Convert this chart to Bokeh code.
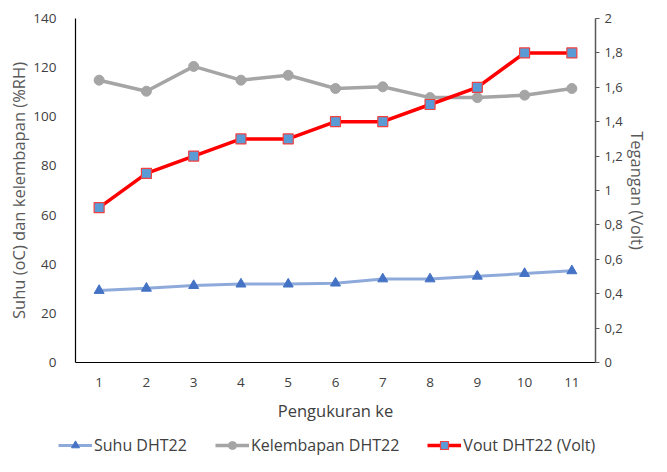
from bokeh.plotting import figure
from bokeh.layouts import column
from bokeh.models import Range1d, LinearAxis, FixedTicker, Legend, LegendItem
from bokeh.embed import file_html
from bokeh.resources import INLINE

pengukuran = [1, 2, 3, 4, 5, 6, 7, 8, 9, 10, 11]
suhu = [29.3, 30.2, 31.3, 31.9, 31.9, 32.3, 34.0, 34.0, 35.1, 36.2, 37.3]
kelembapan = [114.9, 110.4, 120.5, 114.9, 116.9, 111.5, 112.2, 107.8, 107.8, 108.8, 111.5]
vout = [0.9, 1.1, 1.2, 1.3, 1.3, 1.4, 1.4, 1.5, 1.6, 1.8, 1.8]

left_ticks = [0, 20, 40, 60, 80, 100, 120, 140]
right_ticks = [0, 0.2, 0.4, 0.6, 0.8, 1.0, 1.2, 1.4, 1.6, 1.8, 2.0]
right_labels = ["0", "0,2", "0,4", "0,6", "0,8", "1", "1,2", "1,4", "1,6", "1,8", "2"]

FONT = "Open Sans"
TXT = "#404040"
TITLE = "#595959"
TICK_SIZE = "13.5px"
TITLE_SIZE = "16.5px"

C_SUHU_LINE, C_SUHU_MARK = "#8eaadb", "#4472c4"
C_RH = "#a5a5a5"
C_V_LINE, C_V_FILL, C_V_EDGE = "#ff0000", "#5b9bd5", "#f04040"

p = figure(width=651, height=432, output_backend="svg", toolbar_location=None,
           x_range=Range1d(0.5, 11.5), y_range=Range1d(0, 140),
           min_border_left=75, min_border_right=54, min_border_top=18, min_border_bottom=70)
p.frame_align = False
p.outline_line_color = None
p.grid.grid_line_color = None
p.extra_y_ranges = {"v": Range1d(0, 2)}

xa = p.xaxis[0]
xa.ticker = FixedTicker(ticks=pengukuran)
xa.axis_label = "Pengukuran ke"
xa.axis_line_color = "black"
xa.axis_line_width = 1.2
xa.major_tick_line_color = None
xa.minor_tick_line_color = None
xa.major_label_text_font = FONT
xa.major_label_text_font_size = TICK_SIZE
xa.major_label_text_color = TXT
xa.major_label_standoff = 9
xa.axis_label_text_font = FONT
xa.axis_label_text_font_size = TITLE_SIZE
xa.axis_label_text_font_style = "normal"
xa.axis_label_text_color = TXT
xa.axis_label_standoff = 9

ya = p.yaxis[0]
ya.ticker = FixedTicker(ticks=left_ticks)
ya.axis_label = "Suhu (oC) dan kelembapan (%RH)"
ya.axis_line_color = "black"
ya.axis_line_width = 1.2
ya.major_tick_line_color = None
ya.minor_tick_line_color = None
ya.major_label_text_font = FONT
ya.major_label_text_font_size = TICK_SIZE
ya.major_label_text_color = TXT
ya.major_label_standoff = 13
ya.axis_label_text_font = FONT
ya.axis_label_text_font_size = TITLE_SIZE
ya.axis_label_text_font_style = "normal"
ya.axis_label_text_color = TITLE
ya.axis_label_standoff = 0

ra = LinearAxis(y_range_name="v", ticker=FixedTicker(ticks=right_ticks))
ra.major_label_overrides = {t: l for t, l in zip(right_ticks, right_labels)}
ra.axis_label = "Tegangan (Volt)"
ra.axis_line_color = "#595959"
ra.axis_line_width = 1.5
ra.major_tick_line_color = "#595959"
ra.major_tick_in = 0
ra.major_tick_out = 4
ra.minor_tick_line_color = None
ra.major_label_text_font = FONT
ra.major_label_text_font_size = "13px"
ra.major_label_text_color = TXT
ra.major_label_standoff = 5
ra.axis_label_text_font = FONT
ra.axis_label_text_font_size = TITLE_SIZE
ra.axis_label_text_font_style = "normal"
ra.axis_label_text_color = TITLE
ra.axis_label_standoff = 0
p.add_layout(ra, "right")

p.line(pengukuran, suhu, line_color=C_SUHU_LINE, line_width=3)
p.scatter(pengukuran, suhu, marker="triangle", size=10, fill_color=C_SUHU_MARK, line_color=C_SUHU_MARK)
p.line(pengukuran, kelembapan, line_color=C_RH, line_width=3.5)
p.scatter(pengukuran, kelembapan, marker="circle", size=10, fill_color=C_RH, line_color=C_RH)
p.line(pengukuran, vout, line_color=C_V_LINE, line_width=3.5, y_range_name="v")
p.scatter(pengukuran, vout, marker="square", size=10, fill_color=C_V_FILL, line_color=C_V_EDGE,
          line_width=1.2, y_range_name="v")

# legend strip (separate figure so the legend is not clipped by the plot frame);
# its renderers hold one off-range point only, so nothing but the legend shows
lg = figure(width=651, height=24, output_backend="svg", toolbar_location=None,
            x_range=Range1d(0, 1), y_range=Range1d(0, 1),
            x_axis_location=None, y_axis_location=None,
            min_border_left=0, min_border_right=0, min_border_top=0, min_border_bottom=0)
lg.frame_align = False
lg.outline_line_color = None
lg.grid.grid_line_color = None
off_x, off_y = [-5, -4], [-5, -4]
e1 = lg.line(off_x, off_y, line_color=C_SUHU_LINE, line_width=3)
m1 = lg.scatter(off_x[:1], off_y[:1], marker="triangle", size=8, fill_color=C_SUHU_MARK, line_color=C_SUHU_MARK)
e2 = lg.line(off_x, off_y, line_color=C_RH, line_width=3.5)
m2 = lg.scatter(off_x[:1], off_y[:1], marker="circle", size=8, fill_color=C_RH, line_color=C_RH)
e3 = lg.line(off_x, off_y, line_color=C_V_LINE, line_width=3.5)
m3 = lg.scatter(off_x[:1], off_y[:1], marker="square", size=8, fill_color=C_V_FILL, line_color=C_V_EDGE,
                line_width=1.2)

legend = Legend(items=[
    LegendItem(label="Suhu DHT22", renderers=[e1, m1]),
    LegendItem(label="Kelembapan DHT22", renderers=[e2, m2]),
    LegendItem(label="Vout DHT22 (Volt)", renderers=[e3, m3]),
], orientation="horizontal", location=(58, 0))
legend.border_line_color = None
legend.background_fill_alpha = 0
legend.label_text_font = FONT
legend.label_text_font_size = "16px"
legend.label_text_color = TXT
legend.glyph_width = 34
legend.glyph_height = 20
legend.label_height = 20
legend.label_standoff = 2
legend.spacing = 28
legend.margin = 0
legend.padding = 2
lg.add_layout(legend, "center")

layout = column(p, lg, spacing=0)
open("out.html", "w").write(file_html(layout, INLINE))
